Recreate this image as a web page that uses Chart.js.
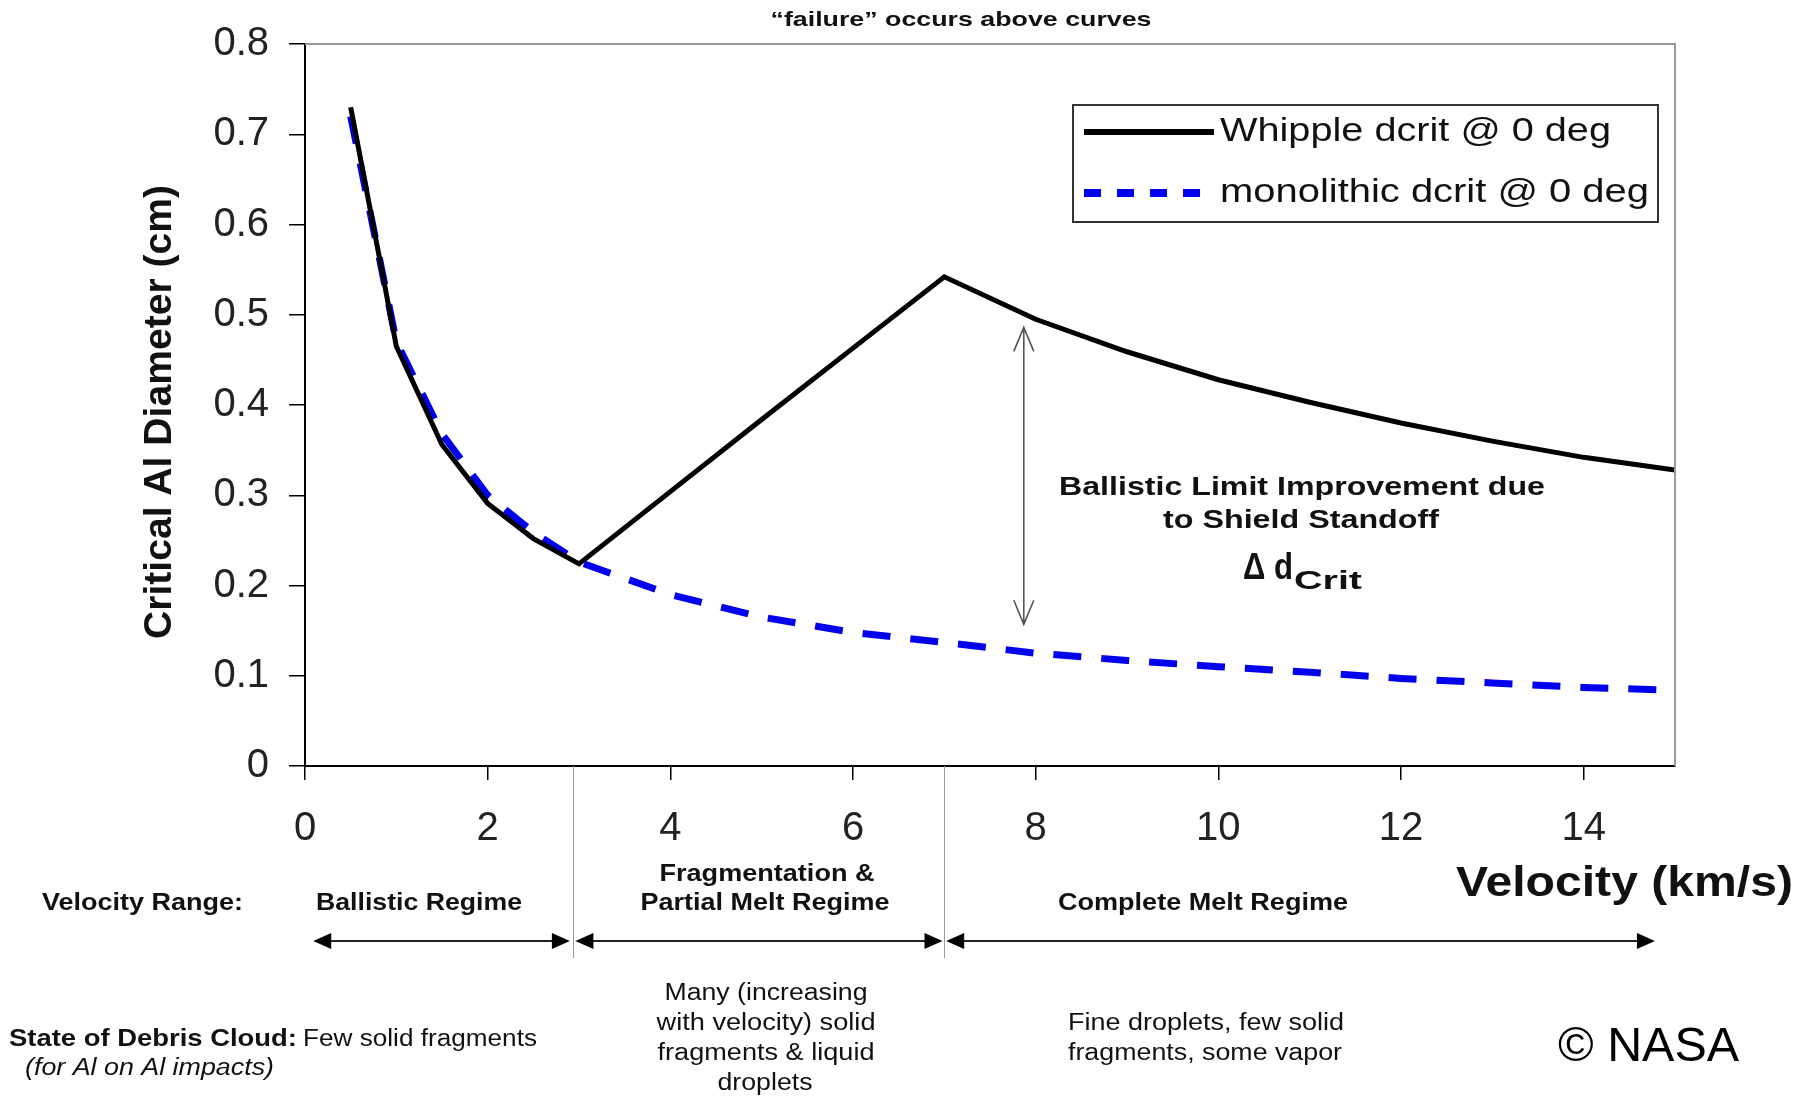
<!DOCTYPE html>
<html>
<head>
<meta charset="utf-8">
<script src="https://cdn.jsdelivr.net/npm/chart.js"></script>
<style>
  html, body { margin: 0; padding: 0; background: #fff; }
  #wrap { width: 1812px; height: 1098px; }
</style>
</head>
<body>
<div id="wrap"><canvas id="dcritChart" width="1812" height="1098"></canvas></div>
<script>
// velocity (km/s) and critical Al diameter (cm)
const velocity = [0.5, 1, 1.5, 2, 2.5, 3, 4, 5, 6, 7, 8, 9, 10, 11, 12, 13, 14, 15];
const whippleDcrit = [0.73, 0.465, 0.356, 0.291, 0.252, 0.224, 0.304, 0.384, 0.463, 0.542, 0.495, 0.459, 0.428, 0.403, 0.38, 0.36, 0.342, 0.328];
const monolithicDcrit = [0.72, 0.47, 0.368, 0.30, 0.259, 0.226, 0.19, 0.165, 0.148, 0.137, 0.125, 0.117, 0.11, 0.104, 0.097, 0.092, 0.087, 0.084];

const xTicks = [0, 2, 4, 6, 8, 10, 12, 14];
const yTicks = [0, 0.1, 0.2, 0.3, 0.4, 0.5, 0.6, 0.7, 0.8];

const seriesNames = ['Whipple dcrit @ 0 deg', 'monolithic dcrit @ 0 deg'];
const regimeBounds = [2.93, 7];
const regimeArrows = [[0.09, 2.9], [2.96, 6.98], [7.02, 14.78]];
const deltaArrow = { x: 7.87, from: 0.486, to: 0.157 };

const FONT = "'Liberation Sans', Arial, sans-serif";

function toPoints(xs, ys) {
  return xs.map((x, i) => ({ x: x, y: ys[i] }));
}

// draw text squeezed/stretched to a given width (the original uses narrow fonts)
function fitText(ctx, str, x, y, font, w, align) {
  ctx.save();
  ctx.font = font;
  ctx.textBaseline = 'middle';
  ctx.textAlign = 'left';
  const m = ctx.measureText(str).width;
  const s = w ? w / m : 1;
  const left = align === 'center' ? x - m * s / 2 : align === 'right' ? x - m * s : x;
  ctx.translate(left, y);
  ctx.scale(s, 1);
  ctx.fillText(str, 0, 0);
  ctx.restore();
}

function solidHead(ctx, x, y, dir) {
  ctx.beginPath();
  ctx.moveTo(x, y);
  ctx.lineTo(x - dir * 18, y - 8);
  ctx.lineTo(x - dir * 18, y + 8);
  ctx.closePath();
  ctx.fill();
}

const extras = {
  id: 'extras',
  afterDraw(chart) {
    const ctx = chart.ctx;
    const a = chart.chartArea;
    const xs = chart.scales.x;
    const ys = chart.scales.y;
    ctx.save();

    // grey frame top / right
    ctx.strokeStyle = '#999';
    ctx.lineWidth = 2;
    ctx.beginPath();
    ctx.moveTo(a.left, a.top);
    ctx.lineTo(a.right, a.top);
    ctx.lineTo(a.right, a.bottom);
    ctx.stroke();

    ctx.fillStyle = '#111';
    fitText(ctx, '\u201cfailure\u201d occurs above curves', 961, 20, 'bold 21px ' + FONT, 381, 'center');

    // y title
    ctx.save();
    ctx.translate(160, 412);
    ctx.rotate(-Math.PI / 2);
    fitText(ctx, 'Critical Al Diameter (cm)', 0, 0, 'bold 39px ' + FONT, 454, 'center');
    ctx.restore();

    fitText(ctx, 'Velocity (km/s)', 1793, 884, 'bold 42px ' + FONT, 337, 'right');

    // legend
    ctx.strokeStyle = '#333';
    ctx.lineWidth = 2;
    ctx.strokeRect(1073, 105, 585, 117);
    ctx.strokeStyle = '#000';
    ctx.lineWidth = 6;
    ctx.beginPath();
    ctx.moveTo(1084, 132);
    ctx.lineTo(1214, 132);
    ctx.stroke();
    ctx.strokeStyle = '#0000ee';
    ctx.lineWidth = 8;
    ctx.setLineDash([17, 16]);
    ctx.beginPath();
    ctx.moveTo(1084, 193);
    ctx.lineTo(1200, 193);
    ctx.stroke();
    ctx.setLineDash([]);
    ctx.fillStyle = '#111';
    fitText(ctx, seriesNames[0], 1220, 132, '34px ' + FONT, 391, 'left');
    fitText(ctx, seriesNames[1], 1220, 193, '34px ' + FONT, 429, 'left');

    // delta arrow inside the plot
    const ax = xs.getPixelForValue(deltaArrow.x);
    const y1 = ys.getPixelForValue(deltaArrow.from);
    const y2 = ys.getPixelForValue(deltaArrow.to);
    ctx.strokeStyle = '#555';
    ctx.lineWidth = 1.6;
    ctx.beginPath();
    ctx.moveTo(ax, y1);
    ctx.lineTo(ax, y2);
    ctx.moveTo(ax - 10, y1 + 24);
    ctx.lineTo(ax, y1);
    ctx.lineTo(ax + 10, y1 + 24);
    ctx.moveTo(ax - 10, y2 - 24);
    ctx.lineTo(ax, y2);
    ctx.lineTo(ax + 10, y2 - 24);
    ctx.stroke();

    fitText(ctx, 'Ballistic Limit Improvement due', 1302, 488, 'bold 26px ' + FONT, 486, 'center');
    fitText(ctx, 'to Shield Standoff', 1301, 521, 'bold 26px ' + FONT, 276, 'center');
    fitText(ctx, '\u0394 d', 1243, 569, 'bold 36px ' + FONT, 50, 'left');
    fitText(ctx, 'Crit', 1294, 582, 'bold 25px ' + FONT, 68, 'left');

    // regime boundaries below the axis
    ctx.strokeStyle = '#999';
    ctx.lineWidth = 1;
    regimeBounds.forEach(v => {
      const px = Math.round(xs.getPixelForValue(v)) + 0.5;
      ctx.beginPath();
      ctx.moveTo(px, a.bottom);
      ctx.lineTo(px, 958);
      ctx.stroke();
    });

    // regime arrows
    ctx.strokeStyle = '#222';
    ctx.fillStyle = '#000';
    ctx.lineWidth = 2;
    regimeArrows.forEach(r => {
      const p1 = xs.getPixelForValue(r[0]);
      const p2 = xs.getPixelForValue(r[1]);
      ctx.beginPath();
      ctx.moveTo(p1 + 10, 941);
      ctx.lineTo(p2 - 10, 941);
      ctx.stroke();
      solidHead(ctx, p1, 941, -1);
      solidHead(ctx, p2, 941, 1);
    });

    ctx.fillStyle = '#111';
    const b = 'bold 23px ' + FONT;
    const r = '23px ' + FONT;
    fitText(ctx, 'Velocity Range:', 42, 904, b, 201, 'left');
    fitText(ctx, 'Ballistic Regime', 419, 904, b, 206, 'center');
    fitText(ctx, 'Fragmentation &', 767, 875, b, 215, 'center');
    fitText(ctx, 'Partial Melt Regime', 765, 904, b, 249, 'center');
    fitText(ctx, 'Complete Melt Regime', 1203, 904, b, 290, 'center');

    fitText(ctx, 'State of Debris Cloud:', 9, 1040, b, 288, 'left');
    fitText(ctx, 'Few solid fragments', 303, 1040, r, 234, 'left');
    fitText(ctx, '(for Al on Al impacts)', 25, 1069, 'italic 23px ' + FONT, 249, 'left');

    fitText(ctx, 'Many (increasing', 766, 994, r, 203, 'center');
    fitText(ctx, 'with velocity) solid', 766, 1024, r, 219, 'center');
    fitText(ctx, 'fragments & liquid', 766, 1054, r, 217, 'center');
    fitText(ctx, 'droplets', 765, 1084, r, 95, 'center');

    fitText(ctx, 'Fine droplets, few solid', 1206, 1024, r, 276, 'center');
    fitText(ctx, 'fragments, some vapor', 1205, 1054, r, 274, 'center');

    ctx.fillStyle = '#000';
    fitText(ctx, '\u00a9 NASA', 1558, 1048, '48px ' + FONT, 181, 'left');
    ctx.restore();
  }
};

const ctx = document.getElementById('dcritChart');
new Chart(ctx, {
  type: 'scatter',
  data: {
    datasets: [{
      label: seriesNames[0],
      data: toPoints(velocity, whippleDcrit),
      showLine: true,
      borderColor: '#000',
      borderWidth: 5,
      pointRadius: 0,
      order: 0
    }, {
      label: seriesNames[1],
      data: toPoints(velocity, monolithicDcrit),
      showLine: true,
      borderColor: '#0000ee',
      borderWidth: 7,
      borderDash: [28, 20],
      pointRadius: 0,
      order: 1
    }]
  },
  options: {
    responsive: false,
    animation: false,
    layout: { padding: { left: 0, right: 137, top: 42, bottom: 0 } },
    scales: {
      x: {
        type: 'linear',
        min: 0,
        max: 15,
        afterFit: s => { s.height = 332; },
        afterBuildTicks: s => { s.ticks = xTicks.map(v => ({ value: v })); },
        grid: { drawOnChartArea: false, tickLength: 14, color: '#000', lineWidth: 1.5 },
        border: { display: true, color: '#000', width: 2 },
        ticks: { font: { family: FONT, size: 40 }, color: '#222', padding: 25, maxRotation: 0 }
      },
      y: {
        min: 0,
        max: 0.8,
        afterFit: s => { s.width = 305; },
        afterBuildTicks: s => { s.ticks = yTicks.map(v => ({ value: v })); },
        grid: { drawOnChartArea: false, tickLength: 16, color: '#000', lineWidth: 1.5 },
        border: { display: true, color: '#000', width: 2 },
        ticks: {
          font: { family: FONT, size: 40 },
          color: '#222',
          padding: 20,
          callback: v => String(+v.toFixed(1))
        }
      }
    },
    plugins: {
      legend: { display: false },
      tooltip: { enabled: false }
    }
  },
  plugins: [extras]
});
</script>
</body>
</html>
